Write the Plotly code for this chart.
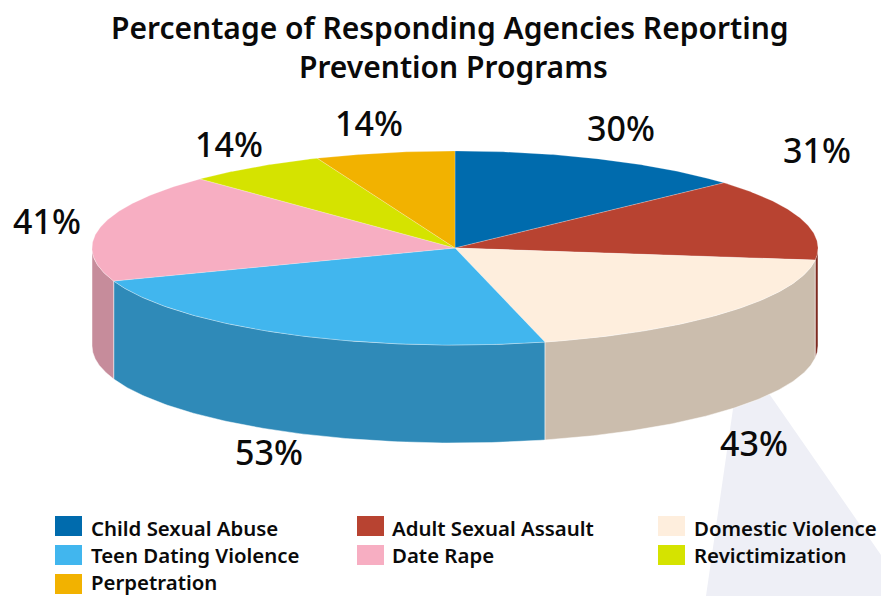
import numpy as np
import plotly.graph_objects as go

# Survey results
categories = ["Child Sexual Abuse", "Adult Sexual Assault", "Domestic Violence",
              "Teen Dating Violence", "Date Rape", "Revictimization", "Perpetration"]
percentages = [30, 31, 43, 53, 41, 14, 14]

# Slice styling
top_colors = ["#006BAD", "#B84331", "#FEEEDD", "#41B6EE", "#F7AEC2", "#D5E300", "#F2B200"]
wall_colors = ["#00527F", "#7D2A20", "#CBBDAD", "#2F8AB8", "#C68C9B", "#A3AE00", "#BA8900"]

# Disc geometry in pixel units of the canvas
W, H = 881, 596
CX, CY, RX, RY, DEPTH = 455, 248, 363, 97, 98

FONT = "Noto Sans"
TITLE_SIZE = 30
LABEL_SIZE = 34
LEGEND_SIZE = 20.4

label_anchor = [(621, 128), (817, 150), (754, 443), (269, 452), (47, 221), (229, 144), (369, 123)]
legend_cols = [(55, 89), (357, 390), (658, 692)]
legend_rows = [(516, 528), (545, 555), (574, 582)]


def rim(a0, a1, n=120):
    """Points on the upper rim between two clockwise angles measured from 12 o'clock."""
    t = np.radians(np.linspace(a0, a1, n))
    return CX + RX * np.sin(t), CY - RY * np.cos(t)


fig = go.Figure()

edges = np.cumsum([0] + percentages) / sum(percentages) * 360

# Side walls: only the part of each slice facing the viewer is visible
for name, a0, a1, col in zip(categories, edges[:-1], edges[1:], wall_colors):
    lo, hi = max(a0, 90), min(a1, 270)
    if lo >= hi:
        continue
    x, y = rim(lo, hi)
    fig.add_trace(go.Scatter(
        x=np.r_[x, x[::-1], x[0]], y=np.r_[y, y[::-1] + DEPTH, y[0]],
        mode="lines", fill="toself", fillcolor=col,
        line=dict(color="rgba(255,255,255,0.8)", width=0.6),
        name=name, hoverinfo="name", showlegend=False))

# Top face
for name, a0, a1, col in zip(categories, edges[:-1], edges[1:], top_colors):
    x, y = rim(a0, a1)
    fig.add_trace(go.Scatter(
        x=np.r_[CX, x, CX], y=np.r_[CY, y, CY],
        mode="lines", fill="toself", fillcolor=col,
        line=dict(color="rgba(255,255,255,0.45)", width=0.5),
        name=name, hoverinfo="name", showlegend=False))

shapes = [
    # Pale backdrop wedge behind the disc
    dict(type="path", layer="below", line=dict(width=0), fillcolor="#EEEFF6",
         path="M 735 395 L 770 395 L 881 555 L 881 596 L 706 596 Z"),
]
annotations = [
    dict(x=W / 2 + 9, y=27, text="Percentage of Responding Agencies Reporting",
         font=dict(size=TITLE_SIZE)),
    dict(x=W / 2 + 13, y=66, text="Prevention Programs", font=dict(size=TITLE_SIZE)),
]
annotations = [dict(a, xref="x", yref="y", showarrow=False, xanchor="center",
                    yanchor="middle") for a in annotations]
for a in annotations:
    a["font"].update(family=FONT, color="#0A0A0A", weight=600)

# Value labels around the disc
for pct, (lx, ly) in zip(percentages, label_anchor):
    annotations.append(dict(
        x=lx, y=ly, xref="x", yref="y", text=f"{pct}%", showarrow=False,
        xanchor="center", yanchor="middle",
        font=dict(family=FONT, size=LABEL_SIZE, color="#0A0A0A", weight=500)))

# Three-column legend
for i, (name, col) in enumerate(zip(categories, top_colors)):
    (sx, tx), (sy, ty) = legend_cols[i % 3], legend_rows[i // 3]
    shapes.append(dict(type="rect", x0=sx, x1=sx + 27, y0=sy, y1=sy + 20,
                       fillcolor=col, line=dict(width=0)))
    annotations.append(dict(
        x=tx, y=ty, xref="x", yref="y", text=name, showarrow=False,
        xanchor="left", yanchor="middle",
        font=dict(family=FONT, size=LEGEND_SIZE, color="#0A0A0A", weight=600)))

fig.update_layout(
    width=W, height=H, margin=dict(l=0, r=0, t=0, b=0),
    paper_bgcolor="white", plot_bgcolor="white",
    xaxis=dict(range=[0, W], visible=False, fixedrange=True),
    yaxis=dict(range=[H, 0], visible=False, fixedrange=True),
    shapes=shapes, annotations=annotations, showlegend=False)

fig.write_html("out.html", config=dict(displayModeBar=False))
